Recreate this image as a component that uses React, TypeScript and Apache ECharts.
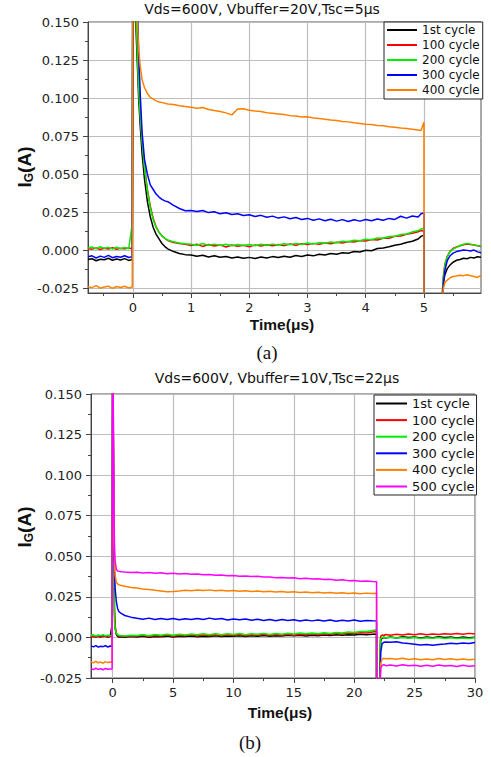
import React, { useEffect, useRef } from "react";
import * as echarts from "echarts";

// ---------- Chart (a) ----------
const titleA = "Vds=600V, Vbuffer=20V,Tsc=5μs";
const namesA = ["1st cycle", "100 cycle", "200 cycle", "300 cycle", "400 cycle"];
const xTicksA = [0, 1, 2, 3, 4, 5];
const xMinorA = [-0.5, 0.5, 1.5, 2.5, 3.5, 4.5, 5.5];
const yTicks = [-0.025, 0, 0.025, 0.05, 0.075, 0.1, 0.125, 0.15];
const yMinor = [-0.0125, 0.0125, 0.0375, 0.0625, 0.0875, 0.1125, 0.1375];

const tA = [
  -0.77, -0.7, -0.63, -0.56, -0.49, -0.42, -0.35, -0.28, -0.21, -0.14, -0.07, -0.01,
  0, 0.02, 0.05, 0.08, 0.1, 0.13, 0.16, 0.2, 0.25, 0.3, 0.35, 0.4, 0.45, 0.5, 0.55, 0.6, 0.7, 0.8, 0.9,
  1, 1.1, 1.2, 1.3, 1.4, 1.5, 1.6, 1.7, 1.8, 1.9, 2, 2.1, 2.2, 2.3, 2.4, 2.5, 2.6, 2.7, 2.8, 2.9,
  3, 3.1, 3.2, 3.3, 3.4, 3.5, 3.6, 3.7, 3.8, 3.9, 4, 4.1, 4.2, 4.3, 4.4, 4.5, 4.6, 4.7, 4.8, 4.9,
  4.95, 5, 5,
  5.15,
  5.3, 5.33, 5.36, 5.4, 5.45, 5.5, 5.56, 5.62, 5.68, 5.74, 5.8, 5.86, 5.92, 5.98,
];

const a1st = [
  -0.006, -0.0055, -0.0068, -0.0058, -0.0062, -0.0052, -0.0065, -0.0057, -0.0063, -0.0054, -0.0066, -0.006,
  0.2, 0.2, 0.15, 0.12, 0.1, 0.08, 0.063, 0.047, 0.032, 0.022, 0.015, 0.0105, 0.0075, 0.0045, 0.0025, 0.001, -0.0008, -0.002, -0.0028,
  -0.003, -0.0038, -0.0032, -0.0044, -0.0036, -0.0045, -0.004, -0.005, -0.0043, -0.0052,
  -0.0046, -0.0053, -0.0044, -0.005, -0.0041, -0.0047, -0.0038, -0.0045, -0.0034, -0.004,
  -0.0031, -0.0036, -0.0026, -0.0031, -0.0021, -0.0025, -0.0015, -0.0019, -0.0008, -0.0011,
  0.0001, -0.0002, 0.0012, 0.0016, 0.0024, 0.0033, 0.004, 0.0052, 0.006, 0.0075,
  0.0092, 0.01, -0.04,
  null,
  -0.04, -0.022, -0.016, -0.012, -0.0095, -0.0078, -0.0065, -0.006, -0.0052, -0.0055, -0.0046, -0.005, -0.0042, -0.0045,
];

const a100 = [
  0.0012, 0.0008, 0.0016, 0.0006, 0.0014, 0.0009, 0.0017, 0.0007, 0.0013, 0.001, 0.0015, 0.0011,
  0.2, 0.2, 0.16, 0.13, 0.108, 0.088, 0.072, 0.055, 0.04, 0.029, 0.021, 0.0155, 0.012, 0.0095, 0.0078, 0.0065, 0.0052, 0.0045, 0.004,
  0.0032, 0.004, 0.0026, 0.0038, 0.0029, 0.0036, 0.0022, 0.0035, 0.0027, 0.0034,
  0.0024, 0.0036, 0.0028, 0.0037, 0.003, 0.0039, 0.0031, 0.0042, 0.0034, 0.0044,
  0.0038, 0.0046, 0.004, 0.0049, 0.0043, 0.0053, 0.0048, 0.0058, 0.0055, 0.0064,
  0.0062, 0.0071, 0.0068, 0.0079, 0.008, 0.0092, 0.0095, 0.0106, 0.0112, 0.0122,
  0.013, 0.0125, -0.021,
  null,
  -0.04, -0.018, -0.009, -0.004, -0.0005, 0.0012, 0.0022, 0.003, 0.0036, 0.0042, 0.0038, 0.0035, 0.003, 0.0026,
];

const a200 = [
  0.0016, 0.0022, 0.001, 0.0024, 0.0013, 0.002, 0.0008, 0.0021, 0.0012, 0.0019, 0.0011, 0.0175,
  0.2, 0.2, 0.158, 0.128, 0.106, 0.087, 0.071, 0.054, 0.039, 0.028, 0.02, 0.015, 0.0118, 0.0095, 0.008, 0.0068, 0.0056, 0.0049, 0.0044,
  0.004, 0.0034, 0.0045, 0.0033, 0.0041, 0.0032, 0.004, 0.0031, 0.0039, 0.0032,
  0.0038, 0.0031, 0.004, 0.0033, 0.0041, 0.0035, 0.0043, 0.0037, 0.0046, 0.0039,
  0.0048, 0.0042, 0.0051, 0.0046, 0.0055, 0.005, 0.006, 0.0056, 0.0066, 0.0063,
  0.0073, 0.007, 0.0081, 0.008, 0.0091, 0.0092, 0.0104, 0.0108, 0.0121, 0.013,
  0.014, 0.0145, -0.04,
  null,
  -0.04, -0.02, -0.0095, -0.0042, -0.0008, 0.0008, 0.002, 0.0032, 0.004, 0.0046, 0.0041, 0.0036, 0.0031, 0.0028,
];

const a300 = [
  -0.0042, -0.0036, -0.005, -0.0038, -0.0046, -0.0033, -0.0048, -0.004, -0.0045, -0.0035, -0.0047, -0.0041,
  0.2, 0.2, 0.2, 0.16, 0.13, 0.1, 0.077, 0.06, 0.05, 0.043, 0.04, 0.037, 0.035, 0.0335, 0.0325, 0.032, 0.0295, 0.0275, 0.026,
  0.0262, 0.0255, 0.0262, 0.0248, 0.0254, 0.024, 0.0247, 0.0236, 0.0241, 0.0229,
  0.0234, 0.0222, 0.023, 0.0217, 0.0225, 0.0212, 0.022, 0.0208, 0.0216, 0.0203,
  0.021, 0.0198, 0.0207, 0.0195, 0.0204, 0.0192, 0.0202, 0.019, 0.0201, 0.0192,
  0.0203, 0.0194, 0.0206, 0.0198, 0.021, 0.0203, 0.0224, 0.0212, 0.0226, 0.0219,
  0.024, 0.0245, -0.04,
  null,
  -0.04, -0.024, -0.013, -0.0068, -0.0035, -0.0018, -0.0008, -0.0002, 0.0003, 0.0, -0.0004, 0.0002, -0.001, -0.0016,
];

const a400 = [
  -0.0238, -0.0245, -0.0232, -0.0248, -0.024, -0.0235, -0.025, -0.0237, -0.0244, -0.0236, -0.0247, -0.0241,
  0.2, 0.2, 0.2, 0.15, 0.132, 0.12, 0.112, 0.107, 0.103, 0.1005, 0.0993, 0.0982, 0.0975, 0.0972, 0.0966, 0.0962, 0.0958, 0.095, 0.0945,
  0.094, 0.0934, 0.0938, 0.0925, 0.0918, 0.0912, 0.0903, 0.089, 0.0928, 0.093,
  0.0921, 0.0916, 0.0912, 0.0904, 0.09, 0.0896, 0.0892, 0.0885, 0.0883, 0.0876,
  0.0877, 0.087, 0.0866, 0.0862, 0.0857, 0.0853, 0.0847, 0.0844, 0.0838, 0.0834,
  0.0829, 0.0826, 0.082, 0.0818, 0.0812, 0.0809, 0.0804, 0.0801, 0.0796, 0.079,
  0.0788, 0.0842, -0.04,
  null,
  -0.04, -0.026, -0.021, -0.0195, -0.018, -0.0172, -0.0168, -0.0163, -0.0166, -0.016, -0.0167, -0.0172, -0.0178, -0.0165,
];

// ---------- Chart (b) ----------
const titleB = "Vds=600V, Vbuffer=10V,Tsc=22μs";
const namesB = ["1st cycle", "100 cycle", "200 cycle", "300 cycle", "400 cycle", "500 cycle"];
const xTicksB = [0, 5, 10, 15, 20, 25, 30];
const xMinorB = [2.5, 7.5, 12.5, 17.5, 22.5, 27.5];

const tB = [
  -1.8, -1.6, -1.4, -1.2, -1, -0.8, -0.6, -0.4, -0.2, -0.05,
  0, 0.05, 0.1, 0.15, 0.2, 0.3, 0.4, 0.5, 0.7, 1, 1.5,
  2, 2.5, 3, 3.5, 4, 4.5, 5, 5.5, 6, 6.5, 7, 7.5, 8, 8.5, 9, 9.5, 10, 10.5, 11, 11.5,
  12, 12.5, 13, 13.5, 14, 14.5, 15, 15.5, 16, 16.5, 17, 17.5, 18, 18.5, 19, 19.5, 20, 20.5, 21, 21.5,
  21.85, 21.85,
  22,
  22.1, 22.15, 22.2, 22.3, 22.45, 22.6, 23, 23.5, 24, 24.5, 25, 25.5, 26, 26.5, 27, 27.5, 28, 28.5, 29, 29.5, 30,
];

const b1st = [
  0.0004, 0.0008, 0.0002, 0.0007, 0.0003, 0.0009, 0.0005, 0.0002, 0.0006, 0.0085,
  0.2, 0.2, 0.035, 0.014, 0.006, 0.0018, 0.0006, 0.0002, 0.0004, 0.0001, 0.0005,
  0.0003, 0.0007, 0.0001, 0.0006, 0.0004, 0.0008, 0.0002, 0.0007, 0.0005, 0.0009,
  0.0004, 0.0008, 0.0006, 0.001, 0.0005, 0.0009, 0.0007, 0.0011, 0.0006, 0.001,
  0.0008, 0.0012, 0.0007, 0.0011, 0.0009, 0.0013, 0.001, 0.0014, 0.0009, 0.0013,
  0.0011, 0.0015, 0.0012, 0.0016, 0.0013, 0.0017, 0.0015, 0.0019, 0.0016, 0.002,
  0.0021, -0.04,
  null,
  -0.04, -0.01, -0.002, -0.0005, 0.0, -0.0003,
  0.0002, -0.0003, 0.0004, -0.0001, 0.0003, -0.0004, 0.0002, -0.0002, 0.0004, -0.0001, 0.0003, -0.0003, 0.0002, -0.0002, 0.0001,
];

const b100 = [
  0.0007, 0.0003, 0.0009, 0.0005, 0.001, 0.0004, 0.0008, 0.0006, 0.0009, 0.0005,
  0.2, 0.2, 0.04, 0.016, 0.007, 0.0025, 0.0012, 0.0008, 0.001, 0.0006, 0.0011,
  0.0008, 0.0014, 0.0006, 0.0012, 0.0009, 0.0015, 0.0007, 0.0013, 0.001, 0.0016,
  0.0009, 0.0015, 0.0011, 0.0017, 0.001, 0.0016, 0.0012, 0.0018, 0.0011, 0.0017,
  0.0013, 0.0019, 0.0012, 0.0018, 0.0014, 0.002, 0.0013, 0.0019, 0.0016, 0.0022,
  0.0017, 0.0023, 0.0019, 0.0025, 0.0021, 0.0027, 0.0024, 0.003, 0.0028, 0.0034,
  0.0036, -0.04,
  null,
  -0.04, -0.002, 0.0008, 0.0015, 0.0012, 0.0018,
  0.0014, 0.002, 0.0015, 0.0021, 0.0016, 0.0022, 0.0017, 0.0021, 0.0018, 0.0023, 0.0019, 0.0024, 0.002, 0.0025, 0.0021,
];

const b200 = [
  0.0012, 0.0016, 0.0009, 0.0015, 0.0011, 0.0017, 0.001, 0.0014, 0.0012, 0.0013,
  0.2, 0.2, 0.03, 0.009, 0.005, 0.0025, 0.0018, 0.0013, 0.0011, 0.0009, 0.0013,
  0.0012, 0.0017, 0.0011, 0.0018, 0.0013, 0.0019, 0.0014, 0.002, 0.0015, 0.0021,
  0.0016, 0.0022, 0.0017, 0.0023, 0.0016, 0.0022, 0.0018, 0.0024, 0.0017, 0.0023,
  0.0019, 0.0025, 0.0018, 0.0024, 0.002, 0.0026, 0.0021, 0.0027, 0.0022, 0.0028,
  0.0023, 0.0029, 0.0025, 0.0031, 0.0027, 0.0033, 0.003, 0.0037, 0.0036, 0.0043,
  0.0046, -0.04,
  null,
  -0.04, -0.004, -0.0008, 0.0, 0.0003, -0.0002,
  0.0001, -0.0004, 0.0, -0.0005, -0.0001, -0.0006, -0.0002, -0.0005, -0.0001, -0.0006, -0.0002, -0.0007, -0.0003, -0.0006, -0.0002,
];

const b300 = [
  -0.0052, -0.0058, -0.005, -0.006, -0.0054, -0.0057, -0.0051, -0.0059, -0.0053, -0.0056,
  0.2, 0.2, 0.052, 0.04, 0.03, 0.022, 0.018, 0.016, 0.0148, 0.0135, 0.0125,
  0.0118, 0.0112, 0.0119, 0.011, 0.0116, 0.0111, 0.0117, 0.0109, 0.0115, 0.011,
  0.0117, 0.0111, 0.0119, 0.0112, 0.0116, 0.0108, 0.0114, 0.0109, 0.0113, 0.0106,
  0.0112, 0.0105, 0.0111, 0.0103, 0.011, 0.0104, 0.0109, 0.0101, 0.0108, 0.0102,
  0.0107, 0.0101, 0.0108, 0.01, 0.0106, 0.0101, 0.0107, 0.01, 0.0105, 0.0103,
  0.0102, -0.04,
  null,
  -0.04, -0.02, -0.009, -0.004, -0.003, -0.0028,
  -0.003, -0.0027, -0.0034, -0.0038, -0.0042, -0.0046, -0.0044, -0.0048, -0.0043, -0.004, -0.0036, -0.0039, -0.0034, -0.0037, -0.0031,
];

const b400 = [
  -0.015, -0.0157, -0.0148, -0.0156, -0.0152, -0.0159, -0.0149, -0.0155, -0.0151, -0.0153,
  0.2, 0.2, 0.06, 0.045, 0.038, 0.034, 0.033, 0.0325, 0.032, 0.0315, 0.0308,
  0.0304, 0.0298, 0.0295, 0.029, 0.0286, 0.0281, 0.0283, 0.0286, 0.029, 0.0288,
  0.0292, 0.0289, 0.0293, 0.0288, 0.0291, 0.0286, 0.0289, 0.0284, 0.0287, 0.0283,
  0.0286, 0.0281, 0.0284, 0.028, 0.0283, 0.0278, 0.0281, 0.0277, 0.028, 0.0275,
  0.0278, 0.0274, 0.0277, 0.0272, 0.0276, 0.0271, 0.0274, 0.0269, 0.0273, 0.027,
  0.0272, -0.04,
  null,
  -0.04, -0.025, -0.016, -0.0135, -0.0128, -0.0132,
  -0.013, -0.0135, -0.0128, -0.0136, -0.0131, -0.0138, -0.0133, -0.0137, -0.013, -0.0136, -0.0132, -0.0138, -0.0133, -0.0137, -0.0134,
];

const b500 = [
  -0.0192, -0.0198, -0.019, -0.0197, -0.0193, -0.0199, -0.0191, -0.0196, -0.0194, -0.0195,
  0.2, 0.2, 0.075, 0.056, 0.047, 0.042, 0.041, 0.0408, 0.0405, 0.0403, 0.04,
  0.0401, 0.0397, 0.04, 0.0395, 0.0398, 0.0393, 0.0396, 0.0391, 0.0394, 0.0389,
  0.0391, 0.0386, 0.0388, 0.0383, 0.0385, 0.038, 0.0382, 0.0377, 0.0379, 0.0375,
  0.0377, 0.0372, 0.0373, 0.0368, 0.037, 0.0366, 0.0368, 0.0362, 0.0364, 0.036,
  0.0362, 0.0357, 0.0358, 0.0353, 0.0355, 0.035, 0.0351, 0.0346, 0.0348, 0.0344,
  0.0343, -0.04,
  null,
  -0.04, -0.028, -0.019, -0.0172, -0.0168, -0.0174,
  -0.017, -0.0176, -0.0168, -0.0175, -0.0171, -0.0178, -0.0172, -0.0177, -0.017, -0.0176, -0.0173, -0.0179, -0.0172, -0.0177, -0.0175,
];

const colors = ["#000000", "#ff0000", "#00ee00", "#0000ff", "#ff8000", "#ff00ff"];
const valuesA = [a1st, a100, a200, a300, a400];
const valuesB = [b1st, b100, b200, b300, b400, b500];

const tickFont = "DejaVu Sans";
const axisColor = "#444";
const gridColor = "#bdbdbd";

function pairs(t: number[], v: (number | null)[]) {
  return t.map((x, i) => [x, v[i] === null || v[i] === undefined ? "-" : v[i]]);
}

function majorX(grid: number, min: number, max: number, ticks: number[]) {
  return {
    type: "value", gridIndex: grid, min, max, position: "bottom",
    axisLine: { show: true, onZero: false, lineStyle: { color: axisColor, width: 1 } },
    axisTick: { show: true, inside: false, length: 5, customValues: ticks, lineStyle: { color: axisColor } },
    axisLabel: { show: true, customValues: ticks, margin: 8, fontFamily: tickFont, fontSize: 13, color: "#222", formatter: (v: number) => String(v) },
    splitLine: { show: true, lineStyle: { color: gridColor, width: 1.2 } },
  };
}
function minorX(grid: number, min: number, max: number, ticks: number[]) {
  return {
    type: "value", gridIndex: grid, min, max, position: "bottom",
    axisLine: { show: false, onZero: false },
    axisTick: { show: true, inside: false, length: 3, customValues: ticks, lineStyle: { color: axisColor } },
    axisLabel: { show: false },
    splitLine: { show: false },
  };
}
function majorY(grid: number, min: number, max: number) {
  return {
    type: "value", gridIndex: grid, min, max, position: "left",
    axisLine: { show: true, onZero: false, lineStyle: { color: axisColor, width: 1 } },
    axisTick: { show: true, inside: false, length: 5, customValues: yTicks, lineStyle: { color: axisColor } },
    axisLabel: { show: true, customValues: yTicks, margin: 9, fontFamily: tickFont, fontSize: 13, color: "#222", formatter: (v: number) => v.toFixed(3) },
    splitLine: { show: true, lineStyle: { color: gridColor, width: 1.2 } },
  };
}
function minorY(grid: number, min: number, max: number) {
  return {
    type: "value", gridIndex: grid, min, max, position: "left",
    axisLine: { show: false, onZero: false },
    axisTick: { show: true, inside: false, length: 3, customValues: yMinor, lineStyle: { color: axisColor } },
    axisLabel: { show: false },
    splitLine: { show: false },
  };
}

function yName(x: number, y: number) {
  return {
    type: "text", x, y, rotation: Math.PI / 2,
    style: {
      text: "{i|I}{g|G}{i|(A)}",
      align: "center", verticalAlign: "middle", textAlign: "center", textVerticalAlign: "middle",
      fill: "#111",
      rich: {
        i: { fontFamily: "Liberation Sans, Arial", fontWeight: "bold", fontSize: 19, lineHeight: 22, fill: "#111" },
        g: { fontFamily: "Liberation Sans, Arial", fontWeight: "bold", fontSize: 12, lineHeight: 22, verticalAlign: "bottom", fill: "#111" },
      },
    },
  };
}
function plainText(text: string, x: number, y: number, font: string, size: number, weight: string) {
  return {
    type: "text", x, y,
    style: {
      text, fontFamily: font, fontSize: size, fontWeight: weight, fill: "#111",
      align: "center", verticalAlign: "middle", textAlign: "center", textVerticalAlign: "middle",
    },
  };
}

export default function App() {
  const ref = useRef<HTMLDivElement>(null);
  useEffect(() => {
    if (!ref.current) return;
    const chart = echarts.init(ref.current, undefined, { renderer: "svg" });
    const series: any[] = [];
    valuesA.forEach((v, i) => {
      series.push({
        type: "line", name: namesA[i], xAxisIndex: 0, yAxisIndex: 0,
        data: pairs(tA, v), showSymbol: false, symbol: "none", clip: true, connectNulls: false,
        lineStyle: { color: colors[i], width: 1.5 }, itemStyle: { color: colors[i] },
      });
    });
    valuesB.forEach((v, i) => {
      series.push({
        type: "line", name: namesB[i], xAxisIndex: 2, yAxisIndex: 2,
        data: pairs(tB, v), showSymbol: false, symbol: "none", clip: true, connectNulls: false,
        lineStyle: { color: colors[i], width: 1.5 }, itemStyle: { color: colors[i] },
      });
    });
    chart.setOption({
      animation: false,
      backgroundColor: "#ffffff",
      grid: [
        { left: 88, top: 22, width: 393, height: 271, show: true, borderColor: "#555", borderWidth: 1, backgroundColor: "transparent", outerBoundsMode: "none", containLabel: false },
        { left: 91, top: 394, width: 384, height: 284, show: true, borderColor: "#555", borderWidth: 1, backgroundColor: "transparent", outerBoundsMode: "none", containLabel: false },
      ],
      xAxis: [
        majorX(0, -0.77, 5.98, xTicksA),
        minorX(0, -0.77, 5.98, xMinorA),
        majorX(1, -1.8, 30, xTicksB),
        minorX(1, -1.8, 30, xMinorB),
      ],
      yAxis: [
        majorY(0, -0.028, 0.15),
        minorY(0, -0.028, 0.15),
        majorY(1, -0.025, 0.15),
        minorY(1, -0.025, 0.15),
      ],
      legend: [
        {
          data: namesA.map((n) => ({ name: n, icon: "rect" })), orient: "vertical", left: 384, top: 22, itemWidth: 30, itemHeight: 2, itemGap: 3,
          padding: [2, 3, 3, 3], borderColor: "#222", borderWidth: 1, backgroundColor: "#fff", selectedMode: false,
          textStyle: { fontFamily: tickFont, fontSize: 12, color: "#111", lineHeight: 12 },
        },
        {
          data: namesB.map((n) => ({ name: n, icon: "rect" })), orient: "vertical", left: 374, top: 395, itemWidth: 31, itemHeight: 2, itemGap: 3.6,
          padding: [2, 2, 2, 2], borderColor: "#222", borderWidth: 1, backgroundColor: "#fff", selectedMode: false,
          textStyle: { fontFamily: tickFont, fontSize: 13, color: "#111", lineHeight: 13 },
        },
      ],
      graphic: [
        plainText(titleA, 262, 9, tickFont, 14, "normal"),
        plainText(titleB, 277, 378, tickFont, 14, "normal"),
        plainText("Time(μs)", 282, 324, "Liberation Sans, Arial", 15.5, "bold"),
        plainText("Time(μs)", 280, 712, "Liberation Sans, Arial", 15.5, "bold"),
        plainText("(a)", 267, 352, "Liberation Serif, Times New Roman", 19, "normal"),
        plainText("(b)", 250, 742, "Liberation Serif, Times New Roman", 19, "normal"),
        yName(24, 167),
        yName(24, 527),
      ],
      series,
    });
    return () => chart.dispose();
  }, []);
  return (
    <div
      ref={ref}
      style={{ position: "fixed", left: 0, top: 0, width: 491, height: 757, background: "#fff" }}
    />
  );
}
